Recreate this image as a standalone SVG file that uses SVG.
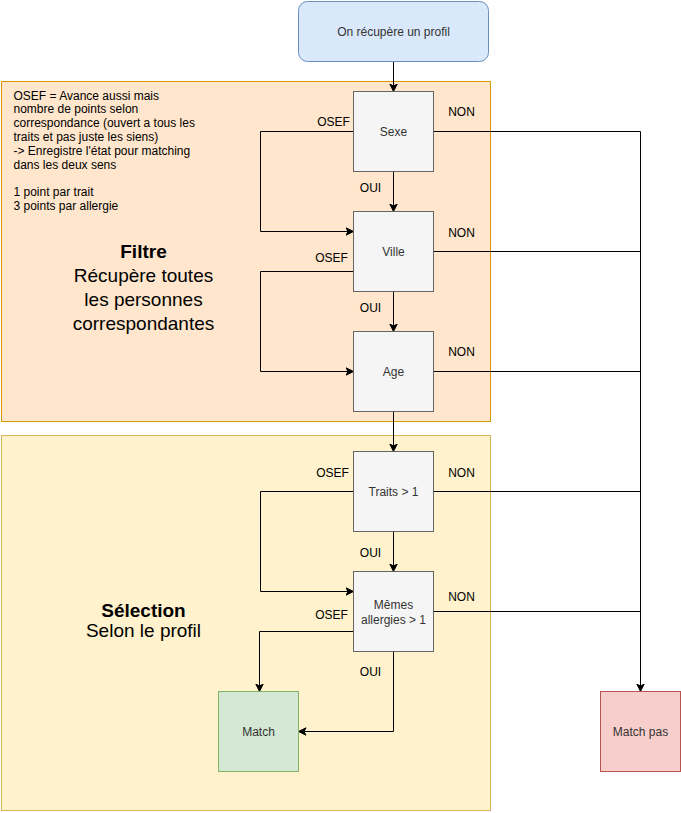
<svg xmlns="http://www.w3.org/2000/svg" width="681" height="813" viewBox="0 0 681 813">
<style>
text{font-family:"Liberation Sans",Arial,sans-serif;font-size:12px}
.lbl{fill:#000;text-anchor:middle}
.nt{fill:#333;text-anchor:middle}
.dec{fill:#f5f5f5;stroke:#666666;stroke-width:1}
.con{fill:none;stroke:#000;stroke-width:1}
.big{font-size:19px;fill:#000;text-anchor:middle}
</style>
<defs>
<marker id="arr" markerUnits="userSpaceOnUse" markerWidth="10" markerHeight="10" refX="8" refY="5" orient="auto" viewBox="0 0 10 10">
<path d="M8,5 L0.5,1.3 L2.5,5 L0.5,8.7 Z" fill="#000" stroke="#000" stroke-width="1"/>
</marker>
</defs>
<g transform="translate(0.5,0.5)">
<g id="filtre">
<rect x="1" y="81" width="489" height="340" fill="#ffe6cc" stroke="#d79b00"/>
<text x="13" y="99" fill="#000">OSEF = Avance aussi mais</text>
<text x="13" y="112.8" fill="#000">nombre de points selon</text>
<text x="13" y="126.6" fill="#000">correspondance (ouvert a tous les</text>
<text x="13" y="140.4" fill="#000">traits et pas juste les siens)</text>
<text x="13" y="154.2" fill="#000">-&gt; Enregistre l'état pour matching</text>
<text x="13" y="168" fill="#000">dans les deux sens</text>
<text x="13" y="195.6" fill="#000">1 point par trait</text>
<text x="13" y="209.4" fill="#000">3 points par allergie</text>
<text x="143" y="257" class="big" font-weight="bold">Filtre</text>
<text x="143" y="281" class="big">Récupère toutes</text>
<text x="143" y="305" class="big">les personnes</text>
<text x="143" y="329" class="big">correspondantes</text>
</g>
<g id="selection">
<rect x="1" y="435" width="489" height="375" fill="#fff2cc" stroke="#d6b656"/>
<text x="143" y="616" class="big" font-weight="bold">Sélection</text>
<text x="143" y="636" class="big">Selon le profil</text>
</g>
<g id="connectors">
<path class="con" d="M393,61 L393,91" marker-end="url(#arr)"/>
<path class="con" d="M393,171 L393,211" marker-end="url(#arr)"/>
<path class="con" d="M393,291 L393,331" marker-end="url(#arr)"/>
<path class="con" d="M393,411 L393,451" marker-end="url(#arr)"/>
<path class="con" d="M393,531 L393,571" marker-end="url(#arr)"/>
<path class="con" d="M353,131 L260,131 L260,231 L353,231" marker-end="url(#arr)"/>
<path class="con" d="M353,271 L260,271 L260,371 L353,371" marker-end="url(#arr)"/>
<path class="con" d="M353,491 L260,491 L260,591 L353,591" marker-end="url(#arr)"/>
<path class="con" d="M353,631 L259,631 L259,691" marker-end="url(#arr)"/>
<path class="con" d="M393,651 L393,731 L298,731" marker-end="url(#arr)"/>
<path class="con" d="M433,131 L640,131 L640,691" marker-end="url(#arr)"/>
<path class="con" d="M433,251 L640,251"/>
<path class="con" d="M433,371 L640,371"/>
<path class="con" d="M433,491 L640,491"/>
<path class="con" d="M433,611 L640,611"/>
<text class="lbl" x="333" y="125">OSEF</text>
<text class="lbl" x="461" y="115">NON</text>
<text class="lbl" x="370" y="191">OUI</text>
<text class="lbl" x="461" y="236">NON</text>
<text class="lbl" x="331" y="261">OSEF</text>
<text class="lbl" x="370" y="311">OUI</text>
<text class="lbl" x="461" y="355">NON</text>
<text class="lbl" x="332" y="476">OSEF</text>
<text class="lbl" x="461" y="476">NON</text>
<text class="lbl" x="370" y="556">OUI</text>
<text class="lbl" x="461" y="600">NON</text>
<text class="lbl" x="331" y="618">OSEF</text>
<text class="lbl" x="370" y="675">OUI</text>
</g>
<g id="start">
<rect x="298" y="1" width="190" height="60" rx="9" ry="9" fill="#dae8fc" stroke="#6c8ebf"/>
<text class="nt" x="393" y="35">On récupère un profil</text>
</g>
<g id="sexe">
<rect class="dec" x="353" y="91" width="80" height="80"/>
<text class="nt" x="393" y="135">Sexe</text>
</g>
<g id="ville">
<rect class="dec" x="353" y="211" width="80" height="80"/>
<text class="nt" x="393" y="255">Ville</text>
</g>
<g id="age">
<rect class="dec" x="353" y="331" width="80" height="80"/>
<text class="nt" x="393" y="375">Age</text>
</g>
<g id="traits">
<rect class="dec" x="353" y="451" width="80" height="80"/>
<text class="nt" x="393" y="495">Traits &gt; 1</text>
</g>
<g id="allergies">
<rect class="dec" x="353" y="571" width="80" height="80"/>
<text class="nt" x="393" y="608.5">Mêmes</text>
<text class="nt" x="393" y="623">allergies &gt; 1</text>
</g>
<g id="match">
<rect x="218" y="691" width="80" height="80" fill="#d5e8d4" stroke="#82b366"/>
<text class="nt" x="258" y="735">Match</text>
</g>
<g id="matchpas">
<rect x="600" y="691" width="80" height="80" fill="#f8cecc" stroke="#b85450"/>
<text class="nt" x="640" y="735">Match pas</text>
</g>
</g>
</svg>
